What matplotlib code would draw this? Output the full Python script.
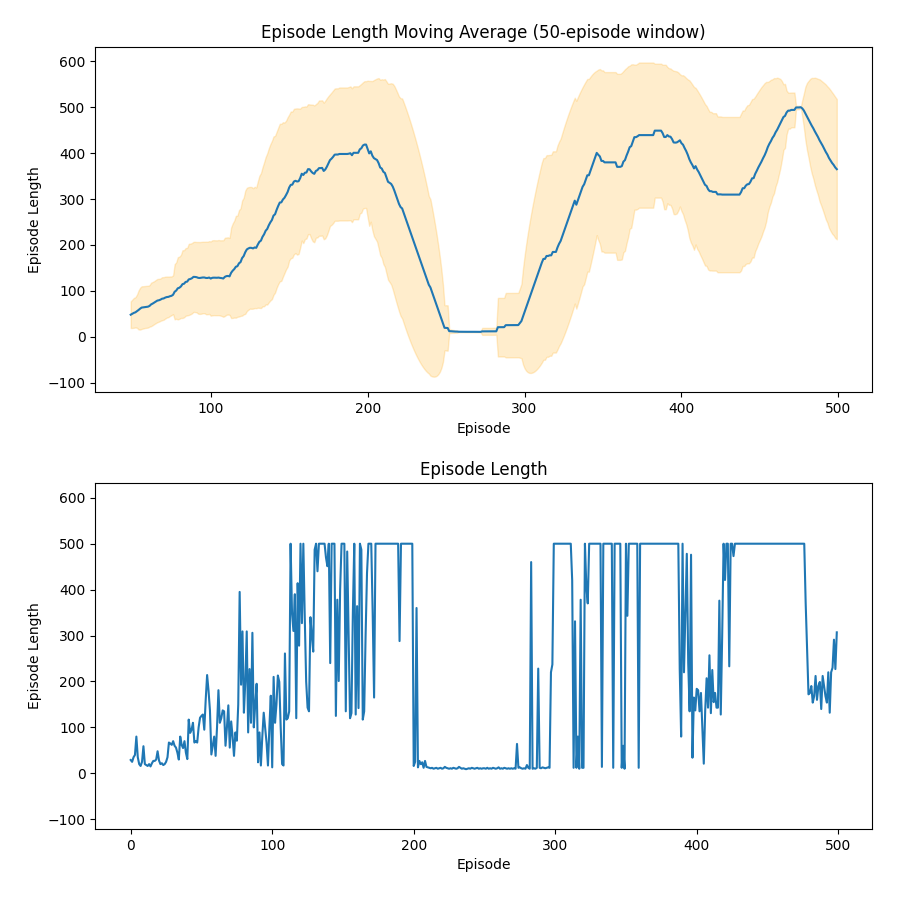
import numpy as np
import pandas as pd
import matplotlib
matplotlib.use("Agg")
import matplotlib.pyplot as plt

WINDOW = 50

# episode lengths, in blocks of 50 episodes
ep_000_049 = [29, 25, 35, 40, 80, 35, 20, 16, 25, 59,
              20, 18, 16, 20, 15, 22, 27, 27, 30, 48,
              28, 20, 22, 18, 20, 25, 35, 67, 65, 62,
              70, 60, 56, 45, 30, 80, 62, 55, 70, 45,
              31, 117, 88, 95, 110, 67, 70, 67, 100, 121]
ep_050_099 = [125, 128, 95, 160, 214, 180, 137, 41, 60, 80,
              38, 100, 181, 110, 120, 137, 135, 60, 100, 148,
              56, 113, 80, 38, 89, 71, 150, 395, 193, 309,
              132, 200, 309, 89, 227, 110, 306, 100, 150, 195,
              24, 89, 17, 80, 132, 100, 67, 17, 100, 169]
ep_100_149 = [13, 210, 110, 150, 213, 199, 100, 20, 17, 261,
              117, 120, 135, 500, 349, 310, 390, 120, 414, 278,
              500, 327, 500, 340, 200, 143, 135, 340, 300, 265,
              487, 500, 440, 500, 500, 500, 500, 500, 470, 451,
              500, 240, 500, 500, 500, 125, 378, 201, 400, 500]
ep_150_199 = [500, 500, 135, 483, 300, 120, 131, 350, 500, 128,
              364, 142, 500, 487, 117, 135, 300, 436, 500, 500,
              500, 350, 165, 500, 500, 500, 500, 500, 500, 500,
              500, 500, 500, 500, 500, 500, 500, 500, 500, 500,
              288, 500, 500, 500, 500, 500, 500, 500, 500, 500]
ep_200_249 = [16, 25, 360, 13, 27, 20, 24, 12, 27, 14,
              13, 12, 11, 12, 10, 11, 12, 10, 11, 12,
              10, 11, 14, 12, 11, 10, 11, 10, 12, 11,
              10, 11, 14, 12, 10, 11, 10, 9, 10, 11,
              10, 12, 11, 10, 11, 12, 10, 11, 10, 11]
ep_250_299 = [11, 10, 12, 10, 11, 10, 12, 11, 10, 11,
              13, 10, 11, 10, 12, 11, 10, 11, 10, 11,
              10, 11, 10, 64, 12, 13, 11, 10, 11, 10,
              18, 12, 10, 460, 10, 11, 10, 12, 228, 12,
              11, 13, 12, 11, 12, 13, 12, 220, 237, 500]
ep_300_349 = [500, 500, 500, 500, 500, 500, 500, 500, 500, 500,
              500, 500, 420, 12, 331, 12, 80, 10, 378, 12,
              12, 500, 407, 370, 500, 500, 500, 500, 500, 500,
              500, 500, 500, 14, 500, 500, 500, 500, 500, 500,
              500, 12, 500, 500, 500, 500, 500, 12, 60, 10]
ep_350_399 = [500, 343, 500, 500, 500, 500, 500, 500, 500, 12,
              500, 500, 500, 500, 500, 500, 500, 500, 500, 500,
              500, 500, 500, 500, 500, 500, 500, 500, 500, 500,
              500, 500, 500, 500, 500, 500, 500, 500, 227, 80,
              500, 220, 350, 478, 240, 135, 476, 34, 165, 137]
ep_400_449 = [184, 181, 135, 175, 100, 21, 137, 207, 143, 257,
              131, 225, 155, 175, 143, 143, 376, 128, 300, 500,
              421, 500, 500, 233, 500, 500, 473, 500, 500, 500,
              500, 500, 500, 500, 500, 500, 500, 500, 500, 500,
              500, 500, 500, 500, 500, 500, 500, 500, 500, 500]
ep_450_499 = [500, 500, 500, 500, 500, 500, 500, 500, 500, 500,
              500, 500, 500, 500, 500, 500, 500, 500, 500, 500,
              500, 500, 500, 500, 500, 500, 500, 371, 270, 172,
              175, 190, 154, 168, 212, 160, 190, 199, 140, 212,
              190, 168, 154, 220, 132, 220, 230, 291, 227, 307]

lengths = (ep_000_049 + ep_050_099 + ep_100_149 + ep_150_199 + ep_200_249
           + ep_250_299 + ep_300_349 + ep_350_399 + ep_400_449 + ep_450_499)
lengths = pd.Series(lengths, dtype=float)
episodes = np.arange(len(lengths))

roll = lengths.rolling(WINDOW)
mov_avg = roll.mean()
mov_std = roll.std()

fig, (ax1, ax2) = plt.subplots(2, 1, figsize=(9, 9), sharey=True)

valid = mov_avg.notna()
ax1.plot(episodes[valid], mov_avg[valid])
ax1.fill_between(episodes[valid], (mov_avg - mov_std)[valid], (mov_avg + mov_std)[valid],
                 color="orange", alpha=0.2)
ax1.set_title(f"Episode Length Moving Average ({WINDOW}-episode window)")
ax1.set_xlabel("Episode")
ax1.set_ylabel("Episode Length")

ax2.plot(episodes, lengths)
ax2.set_title("Episode Length")
ax2.set_xlabel("Episode")
ax2.set_ylabel("Episode Length")

fig.subplots_adjust(left=0.106, right=0.969, top=0.948, bottom=0.079, hspace=0.263)
plt.savefig("out.png", dpi=100)
